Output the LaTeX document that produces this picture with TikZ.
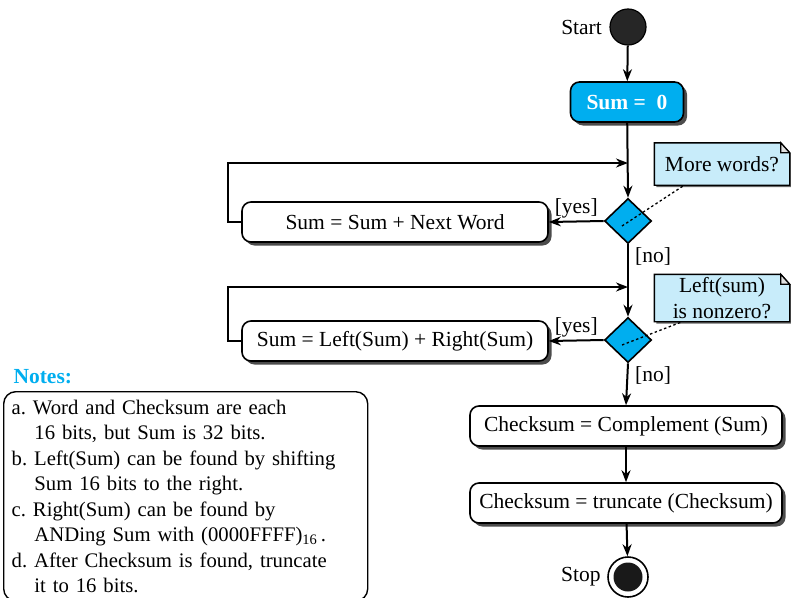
\documentclass[tikz,border=0pt]{standalone}
\usepackage{fontspec}
\setmainfont{Liberation Serif}
\usepackage{tikz}
\usetikzlibrary{shapes.geometric, positioning, arrows.meta, calc, shadows, backgrounds}

\definecolor{actcyan}{RGB}{0,174,239}
\definecolor{notefill}{RGB}{200,236,250}

% outline of a UML note with the folded corner
\newcommand{\dogear}[1]{%
  \begin{scope}[on background layer]
    \draw[line width=1.4pt, fill=notefill, drop shadow={shadow xshift=2pt, shadow yshift=-2pt, fill=black!60, opacity=1}]
      (#1.south west) -- (#1.north west) -- ([xshift=-9pt]#1.north east)
      -- ([yshift=-10pt]#1.north east) -- (#1.south east) -- cycle;
    \draw[line width=1.2pt, fill=black!12]
      ([xshift=-9pt]#1.north east) -- ([xshift=-9pt, yshift=-10pt]#1.north east)
      -- ([yshift=-10pt]#1.north east) -- cycle;
  \end{scope}}

\begin{document}
\frenchspacing
\begin{tikzpicture}[
    x=1pt, y=-1pt,
    every node/.style={font=\fontsize{21.5}{25.5}\selectfont},
    flow/.style={line width=2pt, -{Stealth[length=12pt, width=9pt]}},
    actbox/.style={draw, line width=1.6pt, rectangle, rounded corners=9pt, fill=white,
                   minimum height=40pt, inner sep=0pt,
                   drop shadow={shadow xshift=3.5pt, shadow yshift=-3.5pt, fill=black!70, opacity=1}},
    decide/.style={draw, line width=1.6pt, diamond, fill=actcyan, inner sep=0pt,
                   minimum width=47pt, minimum height=45pt},
    notebox/.style={minimum width=135pt, align=center, inner sep=0pt},
    guard/.style={inner sep=2pt},
    anchorline/.style={line width=1.3pt, dash pattern=on 2.5pt off 2.5pt}
]
    \useasboundingbox (0,0) rectangle (791,597);

    % ========== start / initial value ==========
    \node[circle, draw, line width=1.2pt, fill=black!85, minimum size=36pt, inner sep=0pt] (start) at (628,27) {};
    \node[left=4pt of start] (startlbl) {Start};
    \node[actbox, fill=actcyan, minimum width=113pt, text=white, font=\fontsize{21.5}{25.5}\selectfont\bfseries]
        (sumzero) at (627,102) {Sum =\ \ 0};

    % ========== first loop: add the words ==========
    \node[decide] (d1) at (628,221) {};
    \coordinate (j1) at (628,163);
    \node[actbox, minimum width=306pt] (addword) at (395,222) {Sum = Sum + Next Word};
    \node[notebox, minimum height=42pt] (note1) at (722,164) {More words?};
    \dogear{note1}

    % ========== second loop: wrap the carry ==========
    \node[decide] (d2) at (628,340) {};
    \coordinate (j2) at (628,287);
    \node[actbox, minimum width=306pt] (addcarry) at (395,341) {Sum = Left(Sum) + Right(Sum)};
    \node[notebox, minimum height=47pt] (note2) at (722,298) {Left(sum)\\is nonzero?};
    \dogear{note2}

    % ========== checksum ==========
    \node[actbox, minimum width=312pt] (compl) at (626,426) {Checksum = Complement (Sum)};
    \node[actbox, minimum width=312pt] (trunc) at (626,503) {Checksum = truncate (Checksum)};
    \node[circle, draw, line width=1.6pt, minimum size=40pt, inner sep=0pt,
          path picture={\fill[black!90] (path picture bounding box.center) circle (14.5);}]
        (stop) at (628,577) {};
    \node[left=3pt of stop] (stoplbl) {Stop};

    % ========== notes ==========
    \node[anchor=west, text=actcyan, font=\fontsize{21.5}{25.5}\selectfont\bfseries] (notestitle) at (10,377) {Notes:};
    \node[draw, line width=1.4pt, rounded corners=12pt, anchor=north west, text width=348pt, inner sep=8pt,
          minimum height=206pt, align=left, font=\fontsize{20.7}{25.5}\selectfont] (notes) at (3,391) {%
        a. Word and Checksum are each\\
        \hspace*{1.1em}16 bits, but Sum is 32 bits.\\
        b. Left(Sum) can be found by shifting\\
        \hspace*{1.1em}Sum 16 bits to the right.\\
        c. Right(Sum) can be found by\\
        \hspace*{1.1em}ANDing Sum with (0000FFFF)\textsubscript{16}\,.\\
        d. After Checksum is found, truncate\\
        \hspace*{1.1em}it to 16 bits.};

    % --- Connectors ---
    \draw[flow] (start) -- (sumzero);
    \draw[flow] (sumzero) -- (d1.north);
    \draw[flow] (d1.west) -- (addword.east) node[midway, above, guard] {[yes]};
    \draw[flow] (addword.west) -- ++(-13,0) |- (j1);
    \node[anchor=north west, guard] (no1) at ([xshift=5pt, yshift=-1pt]d1.south) {[no]};

    \draw[flow] (d1.south) -- (d2.north);
    \draw[flow] (d2.west) -- (addcarry.east) node[midway, above, guard] {[yes]};
    \draw[flow] (addcarry.west) -- ++(-13,0) |- (j2);
    \node[anchor=north west, guard] (no2) at ([xshift=5pt, yshift=-1pt]d2.south) {[no]};

    \draw[flow] (d2.south) -- (compl.north);
    \draw[flow] (compl) -- (trunc);
    \draw[flow] (trunc) -- (stop);

    % note anchors
    \draw[anchorline] ($(d1.center)+(-6,5)$) -- ($(note1.south west)+(30,0)$);
    \draw[anchorline] ($(d2.center)+(-6,5)$) -- ($(note2.south west)+(28,0)$);
\end{tikzpicture}
\end{document}
